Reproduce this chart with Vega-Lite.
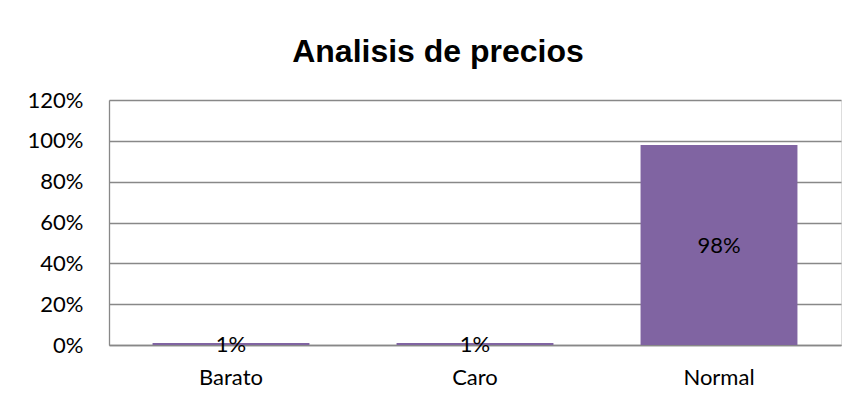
{
  "$schema": "https://vega.github.io/schema/vega-lite/v6.json",
  "width": 732,
  "height": 245,
  "autosize": {"type": "none"},
  "padding": {"left": 109, "top": 100, "right": 19, "bottom": 62},
  "background": "white",
  "title": {
    "text": "Analisis de precios",
    "font": "Liberation Sans",
    "fontSize": 32,
    "fontWeight": "bold",
    "color": "#000000",
    "anchor": "middle",
    "frame": "group",
    "dx": -37,
    "offset": 20
  },
  "data": {
    "values": [
      {"categoria": "Barato", "porcentaje": 0.01},
      {"categoria": "Caro", "porcentaje": 0.01},
      {"categoria": "Normal", "porcentaje": 0.98}
    ]
  },
  "encoding": {
    "x": {
      "field": "categoria",
      "type": "nominal",
      "sort": null,
      "scale": {"paddingInner": 0.357, "paddingOuter": 0.1785},
      "axis": {
        "title": null,
        "labelAngle": 0,
        "labelFont": "Lato",
        "labelFontSize": 22,
        "labelColor": "#000000",
        "labelPadding": 22,
        "ticks": false,
        "domainColor": "#888888",
        "domainWidth": 1.3,
        "grid": false
      }
    }
  },
  "layer": [
    {
      "mark": {"type": "bar", "color": "#8064A2"},
      "encoding": {
        "y": {
          "field": "porcentaje",
          "type": "quantitative",
          "scale": {"domain": [0, 1.2], "nice": false},
          "axis": {
            "title": null,
            "format": ".0%",
            "values": [0, 0.2, 0.4, 0.6, 0.8, 1.0, 1.2],
            "labelFont": "Lato",
            "labelFontSize": 22,
            "labelColor": "#000000",
            "labelPadding": 26,
            "ticks": false,
            "domainColor": "#888888",
            "domainWidth": 1.3,
            "grid": true,
            "gridColor": "#888888",
            "gridWidth": 1.3
          }
        }
      }
    },
    {
      "mark": {
        "type": "text",
        "font": "Lato",
        "fontSize": 22,
        "color": "#000000",
        "baseline": "middle",
        "align": "center",
        "dy": 1.5
      },
      "encoding": {
        "y": {
          "field": "porcentaje",
          "type": "quantitative",
          "scale": {"domain": [0, 2.4], "nice": false},
          "axis": null
        },
        "text": {"field": "porcentaje", "type": "quantitative", "format": ".0%"}
      }
    }
  ],
  "resolve": {"scale": {"y": "independent"}}
}
